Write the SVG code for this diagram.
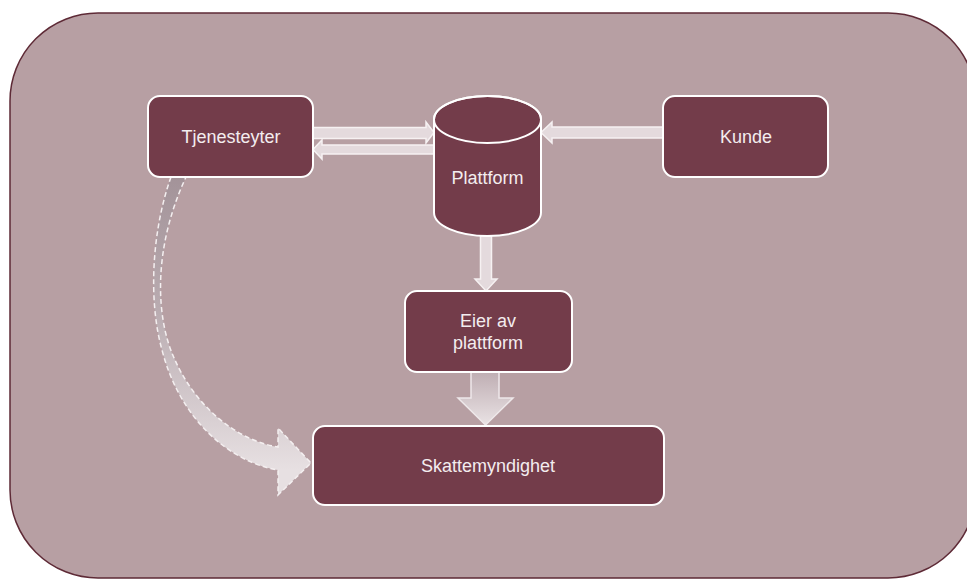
<svg xmlns="http://www.w3.org/2000/svg" width="967" height="581" viewBox="0 0 967 581">
  <defs>
    <style>
      .node { fill: #733c4a; stroke: #ffffff; stroke-width: 2; }
      .label { font-family: "Liberation Sans", Arial, sans-serif; font-size: 18px; fill: #f3edef; text-anchor: middle; }
      .flow { fill: #e4dadd; stroke: #f6f1f2; stroke-width: 1.5; stroke-linejoin: miter; }
    </style>
    <linearGradient id="bigFlow" x1="0" y1="372" x2="0" y2="425" gradientUnits="userSpaceOnUse">
      <stop offset="0" stop-color="#bfaeb3"/>
      <stop offset="1" stop-color="#e9e2e4"/>
    </linearGradient>
    <linearGradient id="curveFlow" x1="0" y1="177" x2="0" y2="470" gradientUnits="userSpaceOnUse">
      <stop offset="0" stop-color="#a39399"/>
      <stop offset="0.45" stop-color="#b9abb0"/>
      <stop offset="1" stop-color="#e7e0e2"/>
    </linearGradient>
  </defs>

  <!-- background panel -->
  <rect x="10" y="13" width="966" height="565" rx="88" ry="88" fill="#b79fa3" stroke="#5e2a36" stroke-width="1.5"/>

  <!-- connectors -->
  <g id="connectors">
    <!-- curved dashed arrow: Tjenesteyter to Skattemyndighet -->
    <path d="M171,177 C152,230 148,300 162,350 C180,420 230,462 278,470 L278,495 L311,463 L278,428 L278,447 C235,440 195,405 175,360 C156,320 152,250 186,177 Z"
          fill="url(#curveFlow)" stroke="#f4eff0" stroke-width="1.5" stroke-dasharray="5 3"/>
    <!-- Tjenesteyter to Plattform -->
    <polygon class="flow" points="313,127.5 426,127.5 426,122 434,132.5 426,143 426,138.5 313,138.5"/>
    <!-- Plattform to Tjenesteyter -->
    <polygon class="flow" points="434,145 322,145 322,140 313,149.5 322,159 322,154 434,154"/>
    <!-- Kunde to Plattform -->
    <polygon class="flow" points="663,127 552,127 552,122 541,132.5 552,143 552,138 663,138"/>
    <!-- Plattform to Eier av plattform -->
    <polygon class="flow" points="480.5,236 491.5,236 491.5,279 497,279 486,291 475,279 480.5,279"/>
    <!-- Eier av plattform to Skattemyndighet -->
    <polygon points="471,372 499,372 499,398 513,398 485.5,425 458,398 471,398" fill="url(#bigFlow)" stroke="#eee8ea" stroke-width="1.5"/>
  </g>

  <g id="tjenesteyter">
    <rect class="node" x="148" y="96" width="165" height="81" rx="12"/>
    <text class="label" x="231" y="143">Tjenesteyter</text>
  </g>

  <g id="plattform">
    <path class="node" d="M434,119.5 L434,212.5 A53.5,23.5 0 0 0 541,212.5 L541,119.5 A53.5,23.5 0 0 0 434,119.5 Z"/>
    <ellipse cx="487.5" cy="119.5" rx="53.5" ry="23.5" fill="none" stroke="#ffffff" stroke-width="2"/>
    <text class="label" x="487.5" y="184">Plattform</text>
  </g>

  <g id="kunde">
    <rect class="node" x="663" y="96" width="165" height="81" rx="12"/>
    <text class="label" x="746" y="143">Kunde</text>
  </g>

  <g id="eier">
    <rect class="node" x="405" y="291" width="167" height="81" rx="12"/>
    <text class="label" x="488" y="327">Eier av</text>
    <text class="label" x="488" y="349">plattform</text>
  </g>

  <g id="skattemyndighet">
    <rect class="node" x="313" y="426" width="351" height="79" rx="12"/>
    <text class="label" x="488" y="472">Skattemyndighet</text>
  </g>
</svg>
